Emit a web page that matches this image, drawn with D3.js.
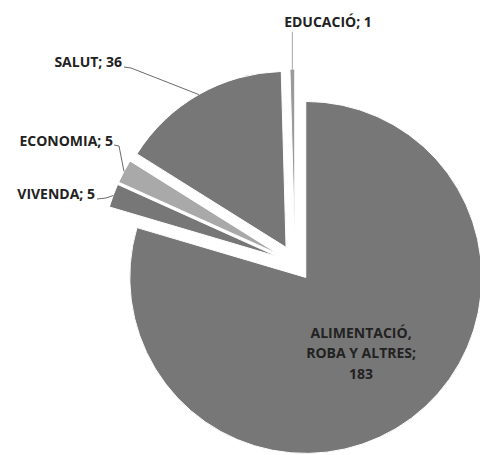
<!DOCTYPE html>
<html>
<head>
<meta charset="utf-8">
<script src="https://cdn.jsdelivr.net/npm/d3@7/dist/d3.min.js"></script>
<style>
  html, body { margin: 0; padding: 0; background: #ffffff; }
  svg { display: block; }
  text { font-family: "Open Sans", "DejaVu Sans", sans-serif; font-weight: 700; fill: #222222; }
</style>
</head>
<body>
<svg id="chart" width="480" height="455"></svg>
<script>
// ---- data ----
const categories = ["ALIMENTACIÓ, ROBA Y ALTRES", "VIVENDA", "ECONOMIA", "SALUT", "EDUCACIÓ"];
const values = [183, 5, 5, 36, 1];
const labelLines = [["ALIMENTACIÓ,", "ROBA Y ALTRES;", "183"], ["VIVENDA; 5"], ["ECONOMIA; 5"], ["SALUT; 36"], ["EDUCACIÓ; 1"]];

// ---- layout / style ----
const W = 480, H = 455;
const cx = 295, cy = 263, R = 176, explode = 18;
const colors = ["#777777", "#777777", "#a9a9a9", "#777777", "#9a9a9a"];
const leaderColors = [null, "#6b6b6b", "#6b6b6b", "#6b6b6b", "#a8a8a8"];
const labelFont = 14;
// outside label layout: text anchor point and leader elbow (px)
const labelLayout = [
  { inside: true, fontSize: 14, lineH: 20.5 },
  { x: 95, y: 199, anchor: "end", elbow: [[97, 199], [106, 198]] },
  { x: 113, y: 146, anchor: "end", elbow: [[114, 145], [119, 146]] },
  { x: 122, y: 67, anchor: "end", elbow: [[124, 67], [131, 68]] },
  { x: 328, y: 27, anchor: "middle", elbow: null }
];

const svg = d3.select("#chart");
svg.append("rect").attr("width", W).attr("height", H).attr("fill", "#ffffff");

const pie = d3.pie().sort(null).value(d => d)(values);
const arc = d3.arc().innerRadius(0).outerRadius(R);
const labelArc = d3.arc().innerRadius(0).outerRadius(R * 1.05);

function offset(d) {
  const m = (d.startAngle + d.endAngle) / 2;
  return [cx + explode * Math.sin(m), cy - explode * Math.cos(m)];
}

const g = svg.append("g");
pie.forEach((d, i) => {
  const [ox, oy] = offset(d);
  g.append("path")
    .attr("transform", `translate(${ox},${oy})`)
    .attr("d", arc(d))
    .attr("fill", colors[i])
    .attr("stroke", "#ffffff")
    .attr("stroke-width", 1);
});

// labels
pie.forEach((d, i) => {
  const [ox, oy] = offset(d);
  const L = labelLayout[i];
  if (L.inside) {
    const c = labelArc.centroid(d);
    const lines = labelLines[i];
    const t = svg.append("text")
      .attr("text-anchor", "middle")
      .attr("font-size", L.fontSize);
    lines.forEach((s, k) => {
      t.append("tspan")
        .attr("x", ox + c[0])
        .attr("y", oy + c[1] + (k - (lines.length - 1) / 2) * L.lineH + 7)
        .text(s);
    });
    return;
  }
  const m = (d.startAngle + d.endAngle) / 2;
  const px = ox + R * Math.sin(m), py = oy - R * Math.cos(m);
  let pts;
  if (L.elbow) {
    pts = [...L.elbow, [px, py]];
  } else {
    pts = [[px, py], [px, L.y + 5]];
  }
  svg.append("path")
    .attr("d", d3.line()(pts))
    .attr("fill", "none")
    .attr("stroke", leaderColors[i])
    .attr("stroke-width", 1);
  svg.append("text")
    .attr("x", L.x).attr("y", L.y)
    .attr("text-anchor", L.anchor)
    .attr("font-size", labelFont)
    .text(labelLines[i][0]);
});
</script>
</body>
</html>
